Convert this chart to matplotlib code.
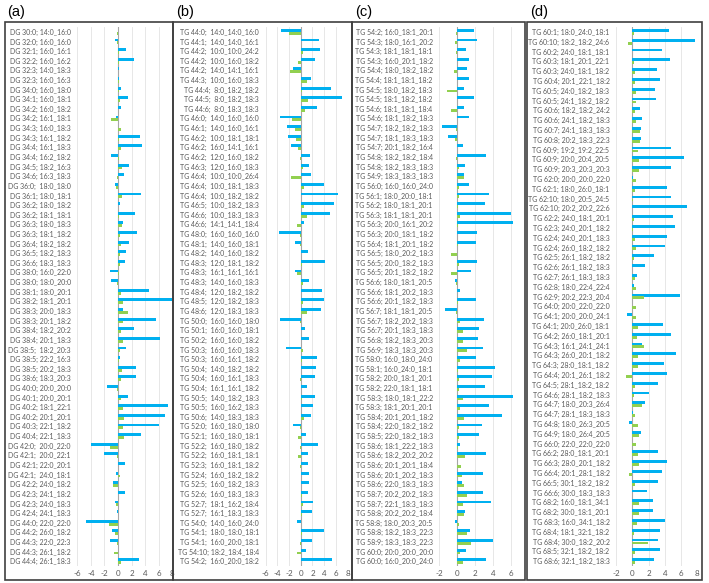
import matplotlib
matplotlib.use("Agg")
import matplotlib.pyplot as plt
from matplotlib.patches import Rectangle

plt.rcParams["font.family"] = ["Lato", "DejaVu Sans"]

BLUE = "#00B0F0"
GREEN = "#92D050"
TXT = "#595959"

# ---- panel (a) -------------------------------------------------------
labels_a = [
    "DG 30:0; 14:0_16:0", "DG 32:0; 16:0_16:0", "DG 32:1; 16:0_16:1",
    "DG 32:2; 16:0_16:2", "DG 32:3; 14:0_18:3", "DG 32:3; 16:0_16:3",
    "DG 34:0; 16:0_18:0", "DG 34:1; 16:0_18:1", "DG 34:2; 16:0_18:2",
    "DG 34:2; 16:1_18:1", "DG 34:3; 16:0_18:3", "DG 34:3; 16:1_18:2",
    "DG 34:4; 16:1_18:3", "DG 34:4; 16:2_18:2", "DG 34:5; 18:2_16:3",
    "DG 34:6; 16:3_18:3", "DG 36:0;  18:0_18:0", "DG 36:1; 18:0_18:1",
    "DG 36:2; 18:0_18:2", "DG 36:2; 18:1_18:1", "DG 36:3; 18:0_18:3",
    "DG 36:3; 18:1_18:2", "DG 36:4; 18:2_18:2", "DG 36:5; 18:2_18:3",
    "DG 36:6; 18:3_18:3", "DG 38:0; 16:0_22:0", "DG 38:0; 18:0_20:0",
    "DG 38:1; 18:0_20:1", "DG 38:2; 18:1_20:1", "DG 38:3; 20:0_18:3",
    "DG 38:3; 20:1_18:2", "DG 38:4; 18:2_20:2", "DG 38:4; 20:1_18:3",
    "DG 38:5;  18:2_20:3", "DG 38:5; 22:2_16:3", "DG 38:5; 20:2_18:3",
    "DG 38:6; 18:3_20:3", "DG 40:0; 20:0_20:0", "DG 40:1; 20:0_20:1",
    "DG 40:2; 18:1_22:1", "DG 40:2; 20:1_20:1", "DG 40:3; 22:1_18:2",
    "DG 40:4; 22:1_18:3", "DG 42:0;  20:0_22:0", "DG 42:1;  20:0_22:1",
    "DG 42:1; 22:0_20:1", "DG 42:1;  24:0_18:1", "DG 42:2; 24:0_18:2",
    "DG 42:3; 24:1_18:2", "DG 42:3; 24:0_18:3", "DG 42:4; 24:1_18:3",
    "DG 44:0; 22:0_22:0", "DG 44:2; 26:0_18:2", "DG 44:3; 22:0_22:3",
    "DG 44:3; 26:1_18:2", "DG 44:4; 26:1_18:3",
]
blue_a = [
    0.05, -0.5, 1.2, 2.3, 0.1, 0.1, 0.5, 1.5, 0.45, -0.3, 0.0, 3.2,
    3.5, -1.0, 1.6, 0.85, -0.5, 3.4, 0.3, 2.5, 0.75, 2.8, 1.6, 1.2,
    1.1, -1.2, -1.0, 4.5, 8.0, 0.8, 5.6, 2.3, 6.2, 1.2, 0.35, 2.6,
    2.7, -1.6, 1.4, 7.4, 6.9, 6.0, 3.4, -4.0, -2.0, 1.1, -0.35, -0.7,
    1.1, -0.4, -0.2, -4.7, -0.85, -1.2, 0.0, 3.1,
]
green_a = [
    -0.2, -0.1, 0.1, 0.1, 0.05, 0.2, 0.1, 0.3, 0.05, -1.1, 0.5, 0.2,
    0.4, 0.2, 0.6, -0.15, -0.3, 0.6, 0.0, 0.1, 0.6, 0.3, 0.4, 0.3,
    0.35, 0.1, -0.1, 0.4, 0.8, 1.5, 0.7, 0.4, 0.8, 0.3, 0.2, 0.6,
    0.5, -0.2, 0.5, 0.8, 0.9, 0.8, 0.9, -1.2, -0.1, 0.0, 0.35, -0.7,
    0.0, -0.3, 0.0, -1.3, -0.5, -0.2, -0.6, 0.4,
]

# ---- panel (b) -------------------------------------------------------
labels_b = [
    "TG 44:0;  14:0_14:0_16:0", "TG 44:1;  14:0_14:0_16:1", "TG 44:2;  10:0_10:0_24:2",
    "TG 44:2;  10:0_16:0_18:2", "TG 44:2;  14:0_14:1_16:1", "TG 44:3;  10:0_16:0_18:3",
    "TG 44:4;  8:0_18:2_18:2", "TG 44:5;  8:0_18:2_18:3", "TG 44:6;  8:0_18:3_18:3",
    "TG 46:0;  14:0_16:0_16:0", "TG 46:1;  14:0_16:0_16:1", "TG 46:2;  10:0_18:1_18:1",
    "TG 46:2;  16:0_14:1_16:1", "TG 46:2;  12:0_16:0_18:2", "TG 46:3;  12:0_16:0_18:3",
    "TG 46:4;  10:0_10:0_26:4", "TG 46:4;  10:0_18:1_18:3", "TG 46:4;  10:0_18:2_18:2",
    "TG 46:5;  10:0_18:2_18:3", "TG 46:6;  10:0_18:3_18:3", "TG 46:6;  14:1_14:1_18:4",
    "TG 48:0;  16:0_16:0_16:0", "TG 48:1;  14:0_16:0_18:1", "TG 48:2;  14:0_16:0_18:2",
    "TG 48:3;  12:0_18:1_18:2", "TG 48:3;  16:1_16:1_16:1", "TG 48:3;  14:0_16:0_18:3",
    "TG 48:4;  12:0_18:2_18:2", "TG 48:5;  12:0_18:2_18:3", "TG 48:6;  12:0_18:3_18:3",
    "TG 50:0;  16:0_16:0_18:0", "TG 50:1;  16:0_16:0_18:1", "TG 50:2;  16:0_16:0_18:2",
    "TG 50:3;  16:0_16:0_18:3", "TG 50:3;  16:0_16:1_18:2", "TG 50:4;  14:0_18:2_18:2",
    "TG 50:4;  16:0_16:1_18:3", "TG 50:4;  16:1_16:1_18:2", "TG 50:5;  14:0_18:2_18:3",
    "TG 50:5;  16:0_16:2_18:3", "TG 50:6;  14:0_18:3_18:3", "TG 52:0;  16:0_18:0_18:0",
    "TG 52:1;  16:0_18:0_18:1", "TG 52:2;  16:0_18:0_18:2", "TG 52:2;  16:0_18:1_18:1",
    "TG 52:3;  16:0_18:1_18:2", "TG 52:4;  16:0_18:2_18:2", "TG 52:5;  16:0_18:2_18:3",
    "TG 52:6;  16:0_18:3_18:3", "TG 52:7;  18:1_16:2_18:4", "TG 52:7;  16:1_18:3_18:3",
    "TG 54:0;  14:0_16:0_24:0", "TG 54:1;  18:0_18:0_18:1", "TG 54:1;  16:0_20:0_18:1",
    "TG 54:10; 18:2_18:4_18:4", "TG 54:2;  16:0_20:0_18:2",
]
blue_b = [
    -3.4, 3.2, 3.35, 2.4, -1.25, 1.75, 5.1, 7.0, 2.7, -3.5, -2.3, -2.1,
    -1.6, 1.6, 1.35, 1.8, 4.0, 6.3, 5.6, 5.0, 0.5, -3.7, -0.9, 1.25,
    4.15, -1.0, 1.5, 3.6, 4.0, 3.4, -3.6, 0.8, 1.5, -2.5, 2.7, 2.55,
    2.45, 1.0, 2.45, 2.1, 1.7, -1.25, 0.85, 2.95, 1.2, 1.3, 1.4, 1.45,
    1.25, 2.05, 1.85, -0.55, 4.0, 2.0, 0.85, 5.3,
]
green_b = [
    -2.0, 0.1, 0.4, -0.4, -1.9, 1.1, 0.3, 1.3, 0.75, -1.4, -1.0, -0.85,
    -0.45, -0.1, 0.45, -1.65, 0.5, 0.05, 0.5, 1.1, -0.6, -0.2, -0.2, 0.0,
    0.2, -0.7, 0.4, 0.1, 0.4, 1.0, -0.1, 0.05, 0.0, 0.35, 0.2, 0.1,
    -0.05, 0.05, 0.15, 0.1, 0.5, -0.1, -0.45, -0.05, -0.4, -0.1, 0.05, 0.1,
    0.2, 0.4, 0.15, 0.0, 0.25, -0.05, -0.6, 0.1,
]

# ---- panel (c) -------------------------------------------------------
labels_c = [
    "TG 54:2; 16:0_18:1_20:1", "TG 54:3; 18:0_16:1_20:2", "TG 54:3; 18:1_18:1_18:1",
    "TG 54:3; 16:0_20:1_18:2", "TG 54:4; 18:0_18:2_18:2", "TG 54:4; 18:1_18:1_18:2",
    "TG 54:5; 18:0_18:2_18:3", "TG 54:5; 18:1_18:2_18:2", "TG 54:6; 18:1_18:1_18:4",
    "TG 54:6; 18:1_18:2_18:3", "TG 54:7; 18:2_18:2_18:3", "TG 54:7; 18:1_18:3_18:3",
    "TG 54:7; 20:1_18:2_16:4", "TG 54:8; 18:2_18:2_18:4", "TG 54:8; 18:2_18:3_18:3",
    "TG 54:9; 18:3_18:3_18:3", "TG 56:0; 16:0_16:0_24:0", "TG 56:1; 18:0_20:0_18:1",
    "TG 56:2; 18:0_18:1_20:1", "TG 56:3; 18:1_18:1_20:1", "TG 56:3; 20:0_16:1_20:2",
    "TG 56:3; 20:0_18:1_18:2", "TG 56:4; 18:1_20:1_18:2", "TG 56:5; 18:0_20:2_18:3",
    "TG 56:5; 20:0_18:2_18:3", "TG 56:5; 20:1_18:2_18:2", "TG 56:6; 18:0_18:1_20:5",
    "TG 56:6; 18:1_20:2_18:3", "TG 56:6; 20:1_18:2_18:3", "TG 56:7; 18:1_18:1_20:5",
    "TG 56:7; 18:2_20:2_18:3", "TG 56:7; 20:1_18:3_18:3", "TG 56:8; 18:2_18:3_20:3",
    "TG 56:9; 18:3_18:3_20:3", "TG 58:0; 16:0_18:0_24:0", "TG 58:1; 16:0_24:0_18:1",
    "TG 58:2; 20:0_18:1_20:1", "TG 58:2; 22:0_18:1_18:1", "TG 58:3; 18:0_18:1_22:2",
    "TG 58:3; 18:1_20:1_20:1", "TG 58:4; 20:1_20:1_18:2", "TG 58:4; 22:0_18:2_18:2",
    "TG 58:5; 22:0_18:2_18:3", "TG 58:6; 18:1_22:2_18:3", "TG 58:6; 18:2_20:2_20:2",
    "TG 58:6; 20:1_20:1_18:4", "TG 58:6; 20:1_20:2_18:3", "TG 58:6; 22:0_18:3_18:3",
    "TG 58:7; 20:2_20:2_18:3", "TG 58:7; 22:1_18:3_18:3", "TG 58:8; 20:2_20:2_18:4",
    "TG 58:8; 18:0_20:3_20:5", "TG 58:8; 18:2_18:3_22:3", "TG 58:9; 18:3_18:3_22:3",
    "TG 60:0; 20:0_20:0_20:0", "TG 60:0; 16:0_20:0_24:0",
]
blue_c = [
    1.9, 2.2, 0.95, 1.35, 1.05, 1.3, 0.75, 1.85, 0.75, 1.35, -1.65, -1.05,
    0.6, 3.2, 0.85, 0.7, 1.3, 3.5, 3.05, 6.0, 6.25, 2.15, 2.05, 0.0,
    2.15, 1.5, -0.2, 0.35, 2.1, -1.35, 2.95, 2.45, 2.35, 2.85, 2.1, 4.15,
    3.9, 3.05, 6.15, 3.55, 5.0, 2.7, 2.4, 0.25, 3.2, 0.0, 2.9, 0.5,
    2.9, 3.75, 0.9, -0.2, 1.4, 3.95, 0.95, 3.2,
]
green_c = [
    -0.1, -0.2, -0.1, -0.05, -0.35, -0.05, -1.15, 0.0, -0.65, -0.05, -0.15, -0.25,
    0.0, -0.1, 0.2, 0.8, 0.2, 0.2, 0.1, 0.3, 0.05, -0.05, 0.05, -0.7,
    0.2, -0.65, -0.15, 0.0, 0.1, -0.1, 0.35, 0.65, 0.65, 1.1, 0.35, 0.1,
    0.2, 0.2, 0.65, 0.25, 0.7, 0.2, 0.15, 0.05, 0.9, 0.45, 0.5, 0.75,
    1.1, 0.65, 0.8, 0.2, 1.05, 1.5, 0.25, 0.65,
]

# ---- panel (d) -------------------------------------------------------
labels_d = [
    "TG 60:1; 18:0_24:0_18:1", "TG 60:10; 18:2_18:2_24:6", "TG 60:2; 24:0_18:1_18:1",
    "TG 60:3; 18:1_20:1_22:1", "TG 60:3; 24:0_18:1_18:2", "TG 60:4; 20:1_22:1_18:2",
    "TG 60:5; 24:0_18:2_18:3", "TG 60:5; 24:1_18:2_18:2", "TG 60:6; 18:2_18:2_24:2",
    "TG 60:6; 24:1_18:2_18:3", "TG 60:7; 24:1_18:3_18:3", "TG 60:8; 20:2_18:3_22:3",
    "TG 60:9; 19:2_19:2_22:5", "TG 60:9; 20:0_20:4_20:5", "TG 60:9; 20:3_20:3_20:3",
    "TG 62:0; 20:0_20:0_22:0", "TG 62:1; 18:0_26:0_18:1", "TG 62:10; 18:0_20:5_24:5",
    "TG 62:10; 20:2_20:2_22:6", "TG 62:2; 24:0_18:1_20:1", "TG 62:3; 24:0_20:1_18:2",
    "TG 62:4; 24:0_20:1_18:3", "TG 62:4; 26:0_18:2_18:2", "TG 62:5; 26:1_18:2_18:2",
    "TG 62:6; 26:1_18:2_18:3", "TG 62:7; 26:1_18:3_18:3", "TG 62:8; 18:0_22:4_22:4",
    "TG 62:9; 20:2_22:3_20:4", "TG 64:0; 20:0_22:0_22:0", "TG 64:1; 20:0_20:0_24:1",
    "TG 64:1; 20:0_26:0_18:1", "TG 64:2; 26:0_18:1_20:1", "TG 64:3; 16:1_24:1_24:1",
    "TG 64:3; 26:0_20:1_18:2", "TG 64:3; 28:0_18:1_18:2", "TG 64:4; 20:1_26:1_18:2",
    "TG 64:5; 28:1_18:2_18:2", "TG 64:6; 28:1_18:2_18:3", "TG 64:7; 18:0_20:3_26:4",
    "TG 64:7; 28:1_18:3_18:3", "TG 64:8; 18:0_26:3_20:5", "TG 64:9; 18:0_26:4_20:5",
    "TG 66:0; 22:0_22:0_22:0", "TG 66:2; 28:0_18:1_20:1", "TG 66:3; 28:0_20:1_18:2",
    "TG 66:4; 20:1_28:1_18:2", "TG 66:5; 30:1_18:2_18:2", "TG 66:6; 30:0_18:3_18:3",
    "TG 68:2; 16:0_18:1_34:1", "TG 68:2; 30:0_18:1_20:1", "TG 68:3; 16:0_34:1_18:2",
    "TG 68:4; 18:1_32:1_18:2", "TG 68:4; 30:0_18:2_20:2", "TG 68:5; 32:1_18:2_18:2",
    "TG 68:6; 32:1_18:2_18:3",
]
blue_d = [
    4.55, 7.7, 3.65, 4.6, 3.0, 3.35, 2.75, 2.9, 0.95, 1.25, 1.05, 1.1,
    4.8, 6.35, 4.75, 0.1, 4.3, 4.8, 6.75, 4.95, 5.2, 4.25, 4.05, 2.7,
    1.5, 0.55, 0.25, 5.85, 0.0, -0.6, 3.8, 4.75, 1.25, 5.35, 3.85, 4.3,
    3.15, 2.1, 1.5, 0.05, -0.4, 1.05, -0.05, 3.1, 4.25, 3.6, 3.15, 1.85,
    2.6, 2.6, 4.05, 3.45, 3.1, 3.45, 2.7,
]
green_d = [
    0.15, -0.5, 0.0, 0.2, 0.35, 0.35, 0.45, 0.45, 0.35, 0.5, 0.95, 1.0,
    0.65, 0.8, 0.8, 0.4, 0.35, 0.05, 0.0, 0.2, 0.05, 0.3, 0.5, 0.2,
    0.0, 0.3, 0.5, 1.4, 0.5, 0.45, 0.75, 0.6, 1.4, 0.7, 0.7, -0.75,
    0.3, 0.2, 1.15, 0.3, 0.65, 0.8, 0.4, 0.75, 0.8, -0.4, 0.3, 0.0,
    0.8, 0.85, 0.55, 0.25, 1.95, 0.35, 0.35,
]

W, H = 709, 583


def frac(x0, y0, x1, y1):
    """pixel box (top-left origin) -> figure fraction rect"""
    return [x0 / W, 1 - y1 / H, (x1 - x0) / W, (y1 - y0) / H]


def draw_panel(fig, title, frame, plot_x, labels, blue, green, xlim, xticks):
    fx0, fx1 = frame
    fig.add_artist(Rectangle((fx0 / W, 1 - 580 / H), (fx1 - fx0) / W, (580 - 21.5) / H,
                             transform=fig.transFigure, fill=False,
                             edgecolor="#3f3f3f", linewidth=1.2))
    fig.text((fx0 + 3) / W, 1 - 12 / H, title, fontsize=10.5, va="center",
             ha="left", family=["Liberation Sans", "DejaVu Sans"])

    ax = fig.add_axes(frac(plot_x[0], 27, plot_x[1], 566))
    n = len(labels)
    pos = list(range(n))
    h = 0.3
    ax.barh([p - h / 2 for p in pos], blue, height=h, color=BLUE, zorder=3)
    ax.barh([p + h / 2 for p in pos], green, height=h, color=GREEN, zorder=3)
    ax.set_ylim(n - 0.5, -0.5)
    ax.set_xlim(*xlim)
    ax.set_yticks(pos)
    ax.set_yticklabels(labels, fontsize=5.05, color=TXT)
    ax.set_xticks(xticks)
    ax.set_xticklabels([str(t) for t in xticks], fontsize=5.8, color=TXT)
    ax.tick_params(length=0)
    ax.tick_params(axis="y", pad=4.8)
    ax.tick_params(axis="x", pad=3)
    for t in xticks:
        if t != 0:
            ax.axvline(t, color="#e3e3e3", linewidth=0.6, zorder=1)
    ax.axvline(0, color="#a6a6a6", linewidth=0.8, zorder=2)
    for s in ax.spines.values():
        s.set_visible(False)
    ax.set_facecolor("none")
    return ax


fig = plt.figure(figsize=(W / 100, H / 100), dpi=100)

draw_panel(fig, "(a)", (4.5, 173), (77.4, 172.2), labels_a, blue_a, green_a,
           (-6, 8), [-6, -4, -2, 0, 2, 4, 6, 8])
draw_panel(fig, "(b)", (173, 352), (265.5, 347.6), labels_b, blue_b, green_b,
           (-6, 8), [-6, -4, -2, 0, 2, 4, 6, 8])
draw_panel(fig, "(c)", (352, 524.5), (439.3, 522), labels_c, blue_c, green_c,
           (-2, 7.2), [-2, 0, 2, 4, 6])
draw_panel(fig, "(d)", (527, 702), (616.1, 697.3), labels_d, blue_d, green_d,
           (-2, 8), [-2, 0, 2, 4, 6, 8])

fig.savefig("out.png", dpi=100)
